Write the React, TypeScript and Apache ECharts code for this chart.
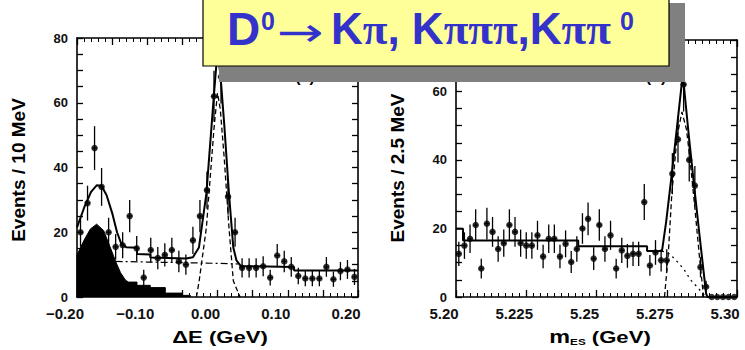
import React, { useEffect, useRef } from 'react';
import * as echarts from 'echarts';

// ---------- Left panel: ΔE (GeV), events / 10 MeV ----------
const leftBinCenters = [
  -0.195, -0.185, -0.175, -0.165, -0.155, -0.145, -0.135, -0.125, -0.115, -0.105,
  -0.095, -0.085, -0.075, -0.065, -0.055, -0.045, -0.035, -0.025, -0.015, -0.005,
  0.005, 0.015, 0.025, 0.035, 0.045, 0.055, 0.065, 0.075, 0.085, 0.095,
  0.105, 0.115, 0.125, 0.135, 0.145, 0.155, 0.165, 0.175, 0.185, 0.195,
];
const leftCounts = [
  20, 29, 46, 34, 20, 15.5, 16, 25, 15, 6,
  14.5, 12, 13, 14.5, 11, 10, 17.5, 25, 33, 62,
  68, 31, 20, 9, 9, 9, 9.5, 6, 12.8, 11,
  9.3, 6.5, 5.7, 5.7, 5.7, 9.3, 5.5, 8, 8.5, 6.2,
];
const leftTotalFit = [
  [-0.2, 21.5], [-0.19, 27.5], [-0.18, 32.5], [-0.172, 34.5], [-0.165, 34.3], [-0.158, 31.5],
  [-0.15, 26], [-0.143, 20], [-0.137, 16.5], [-0.13, 15.4], [-0.1146, 15.2], [-0.1146, 13.3],
  [-0.0957, 13.1], [-0.0957, 12.2], [-0.045, 11.9], [-0.035, 12.3], [-0.0264, 15.3],
  [-0.0158, 32], [-0.0084, 53], [-0.005, 62.7], [-0.0015, 72], [0.001, 74], [0.004, 69],
  [0.0097, 53], [0.0163, 32], [0.0225, 15.3], [0.027, 11.3], [0.033, 9.6], [0.109, 9.3],
  [0.109, 8.2], [0.2, 8.2],
];
const leftSignalFit = [
  [-0.03, 0], [-0.0264, 4.5], [-0.0158, 21.5], [-0.0084, 42.5], [-0.005, 52], [0.0, 63],
  [0.004, 58], [0.0097, 42.5], [0.0163, 21.5], [0.0225, 5], [0.032, 0],
];
const leftBackgroundFit = [[-0.145, 11], [-0.1, 10.8], [-0.05, 10.6], [0.0, 10.4], [0.03, 10.2]];
const leftPeakingBkg = [
  [-0.2, 0], [-0.2, 13], [-0.19, 17.5], [-0.181, 21], [-0.172, 22.5], [-0.162, 20.5],
  [-0.153, 15.5], [-0.145, 11], [-0.138, 7.5], [-0.131, 5.2], [-0.1265, 4.6], [-0.1146, 4.6],
  [-0.1146, 3.6], [-0.0957, 3.6], [-0.0957, 2.9], [-0.0743, 2.9], [-0.0743, 1.2],
  [-0.0505, 1.2], [-0.0505, 0.5], [-0.0387, 0.5], [-0.0387, 0],
];
const leftXTickLabels = ['\u22120.20', '\u22120.10', '0.00', '0.10', '0.20'];

// ---------- Right panel: m_ES (GeV), events / 2.5 MeV ----------
const rightBinCenters = [
  5.201, 5.203, 5.205, 5.207, 5.209, 5.211, 5.213, 5.215, 5.217, 5.219,
  5.221, 5.223, 5.225, 5.227, 5.229, 5.231, 5.233, 5.235, 5.237, 5.239,
  5.241, 5.243, 5.245, 5.247, 5.249, 5.251, 5.253, 5.255, 5.257, 5.259,
  5.261, 5.263, 5.265, 5.267, 5.269, 5.271, 5.273, 5.275, 5.277, 5.279,
  5.281, 5.283, 5.285, 5.287, 5.289, 5.291, 5.293, 5.295, 5.297, 5.299,
];
const rightCounts = [
  12.6, 15, 17, 21, 8.3, 21.4, 19, 14, 15.7, 21,
  19, 15.7, 15, 15, 18, 11.8, 17, 17, 11.8, 15.5,
  10.2, 14, 20, 22.8, 11.2, 21, 14, 18, 8.3, 13.6,
  12, 12.6, 12.6, 27.7, 9.2, 13, 10.7, 10.7, 36, 46,
  62, 40, 32.5, 8.7, 3, 0, 0, 0, 0, 0,
];
const rightTotalFit = [
  [5.2, 19.9], [5.2025, 19.9], [5.2025, 16.5], [5.2435, 16.5], [5.2435, 14.8], [5.268, 14.8],
  [5.268, 13.4], [5.2733, 13.4], [5.2748, 22], [5.2768, 36], [5.2787, 50], [5.2807, 65],
  [5.2828, 47.5], [5.2848, 32], [5.2868, 17], [5.289, 1], [5.2895, 0], [5.3, 0],
];
const rightSignalFit = [
  [5.2742, 0], [5.2755, 12], [5.2768, 30], [5.2787, 47], [5.2804, 54], [5.282, 49],
  [5.2833, 40], [5.285, 26], [5.2866, 12], [5.2881, 0],
];
const rightBackgroundFit = [
  [5.2733, 13.4], [5.276, 12.6], [5.2785, 10.5], [5.281, 8.2], [5.2835, 5], [5.2865, 2.3], [5.289, 0],
];
const rightXTickLabels = ['5.20', '5.225', '5.25', '5.275', '5.30'];

const SANS = '"Liberation Sans", Arial, Helvetica, sans-serif';
const BLUE = '#3333cc';

function xAxisDef(grid: number, pos: string, min: number, max: number, interval: number, minorSplit: number, formatter: any, show: boolean) {
  return {
    type: 'value', gridIndex: grid, position: pos, min, max, interval,
    axisLine: { show: true, onZero: false, lineStyle: { color: '#000', width: 1.6 } },
    axisTick: { show: true, inside: true, length: 7, lineStyle: { color: '#000', width: 1.3 } },
    minorTick: { show: true, splitNumber: minorSplit, length: 4, lineStyle: { color: '#000', width: 1 } },
    splitLine: { show: false },
    minorSplitLine: { show: false },
    axisLabel: {
      show, formatter, fontSize: 15, fontWeight: 'bold', color: '#111', fontFamily: SANS,
      margin: 9, padding: [0, 24, 0, 0],
    },
  };
}
function yAxisDef(grid: number, pos: string, max: number, show: boolean) {
  return {
    type: 'value', gridIndex: grid, position: pos, min: 0, max, interval: 5,
    axisLine: { show: true, onZero: false, lineStyle: { color: '#000', width: 1.6 } },
    axisTick: { show: true, inside: true, length: 6, lineStyle: { color: '#000', width: 1.3 } },
    splitLine: { show: false },
    axisLabel: {
      show, fontSize: 13, fontWeight: 'bold', color: '#111', fontFamily: SANS, margin: 9,
      padding: [0, 0, 6, 0],
      formatter: (v: number) => (Math.round(v) % 20 === 0 ? String(Math.round(v)) : ''),
    },
  };
}
function errorBars(xi: number, yi: number, xs: number[], ys: number[], halfBin: number) {
  return {
    type: 'custom', coordinateSystem: 'cartesian2d', xAxisIndex: xi, yAxisIndex: yi, z: 4,
    data: xs.map((x, i) => [x, ys[i], Math.sqrt(ys[i])]),
    encode: { x: 0, y: 1 },
    renderItem: (_p: any, api: any) => {
      const x = api.value(0), y = api.value(1), e = api.value(2);
      const top = api.coord([x, y + e]);
      const bot = api.coord([x, Math.max(0, y - e)]);
      const l = api.coord([x - halfBin, y]);
      const r = api.coord([x + halfBin, y]);
      return {
        type: 'group',
        children: [
          { type: 'line', shape: { x1: top[0], y1: top[1], x2: bot[0], y2: bot[1] }, style: { stroke: '#000', lineWidth: 1.3 } },
          { type: 'line', shape: { x1: l[0], y1: l[1], x2: r[0], y2: r[1] }, style: { stroke: '#000', lineWidth: 1.3 } },
        ],
      };
    },
  };
}
function fitLine(xi: number, yi: number, data: number[][], width: number, type: any, z = 3) {
  return {
    type: 'line', xAxisIndex: xi, yAxisIndex: yi, data, showSymbol: false, symbol: 'none', z,
    lineStyle: { color: '#000', width, type }, silent: true,
  };
}
function points(xi: number, yi: number, xs: number[], ys: number[]) {
  return {
    type: 'scatter', xAxisIndex: xi, yAxisIndex: yi, z: 5,
    data: xs.map((x, i) => [x, ys[i]]), symbol: 'circle', symbolSize: 6.5,
    itemStyle: { color: '#000' },
  };
}

const leftFmt = (v: number) => {
  const k = Math.round(v * 100);
  if (k % 10 !== 0) return '';
  return leftXTickLabels[(k + 20) / 10] ?? '';
};
const rightFmt = (v: number) => {
  const idx = Math.round((v - 5.2) / 0.025);
  return rightXTickLabels[idx] ?? '';
};

function txt(text: string, x: number, y: number, font: string, extra: any = {}, z = 120) {
  return {
    type: 'text', x, y, z, ...extra,
    style: {
      text, font, fill: extra.fill || '#000',
      align: extra.align || 'center', textAlign: extra.align || 'center',
      verticalAlign: 'middle', textVerticalAlign: 'middle',
      rich: extra.rich,
    },
  };
}

export default function App() {
  const ref = useRef<HTMLDivElement>(null);
  useEffect(() => {
    document.body.style.margin = '0';
    const chart = echarts.init(ref.current!, null, { renderer: 'svg' });
    const option: any = {
      animation: false,
      backgroundColor: '#ffffff',
      grid: [
        { left: 77, top: 38, width: 281, height: 259 },
        { left: 456, top: 40, width: 281, height: 257 },
      ],
      xAxis: [
        xAxisDef(0, 'bottom', -0.2, 0.2, 0.05, 5, leftFmt, true),
        xAxisDef(0, 'top', -0.2, 0.2, 0.05, 5, leftFmt, false),
        xAxisDef(1, 'bottom', 5.2, 5.3, 0.025, 10, rightFmt, true),
        xAxisDef(1, 'top', 5.2, 5.3, 0.025, 10, rightFmt, false),
      ],
      yAxis: [
        yAxisDef(0, 'left', 80, true),
        yAxisDef(0, 'right', 80, false),
        yAxisDef(1, 'left', 75, true),
        yAxisDef(1, 'right', 75, false),
      ],
      series: [
        {
          type: 'line', xAxisIndex: 0, yAxisIndex: 0, data: leftPeakingBkg, showSymbol: false, symbol: 'none',
          z: 2, lineStyle: { color: '#000', width: 1 }, areaStyle: { color: '#000', opacity: 1 }, silent: true,
        },
        fitLine(0, 0, leftBackgroundFit, 1.2, [7, 3, 2, 3]),
        fitLine(0, 0, leftSignalFit, 1.3, [5, 3]),
        fitLine(0, 0, leftTotalFit, 2),
        errorBars(0, 0, leftBinCenters, leftCounts, 0.0035),
        points(0, 0, leftBinCenters, leftCounts),
        fitLine(2, 2, rightBackgroundFit, 1.3, [2, 4]),
        fitLine(2, 2, rightSignalFit, 1.3, [5, 3]),
        fitLine(2, 2, rightTotalFit, 2),
        errorBars(2, 2, rightBinCenters, rightCounts, 0.0008),
        points(2, 2, rightBinCenters, rightCounts),
      ],
      graphic: [
        txt('(a)', 305, 76, `bold 16px ${SANS}`, {}, 50),
        txt('(b)', 656, 76, `bold 16px ${SANS}`, {}, 50),
        { type: 'rect', z: 100, shape: { x: 219, y: 3, width: 466, height: 79 }, style: { fill: '#808080' } },
        { type: 'rect', z: 101, shape: { x: 203, y: -13, width: 466, height: 79 }, style: { fill: '#ffff99', stroke: '#000', lineWidth: 1.2 } },
        txt('D', 227, 28.5, `bold 46px ${SANS}`, { fill: BLUE, align: 'left' }, 110),
        txt('0', 261, 21, `bold 25px ${SANS}`, { fill: BLUE, align: 'left' }, 110),
        txt('\u2192', 277, 32, `40px "DejaVu Sans", ${SANS}`, { fill: BLUE, align: 'left', scaleX: 1.4 }, 110),
        txt('{k|K}{p|\u03c0}{k|, K}{p|\u03c0\u03c0\u03c0}{k|,K}{p|\u03c0\u03c0}', 331, 28.5, `bold 44px ${SANS}`, {
          fill: BLUE, align: 'left',
          rich: {
            k: { fontSize: 44, fontWeight: 'bold', fontFamily: SANS, fill: BLUE, color: BLUE },
            p: { fontSize: 45, fontWeight: 'bold', fontFamily: '"Liberation Serif", "DejaVu Serif", serif', fill: BLUE, color: BLUE },
          },
        }, 110),
        txt('0', 620, 21, `bold 25px ${SANS}`, { fill: BLUE, align: 'left' }, 110),
        txt('Events / 10 MeV', 18, 170, `bold 19px ${SANS}`, { rotation: Math.PI / 2 }, 60),
        txt('Events / 2.5 MeV', 397, 168, `bold 19px ${SANS}`, { rotation: Math.PI / 2 }, 60),
        txt('\u0394E (GeV)', 220, 337, `bold 17px ${SANS}`, { scaleX: 1.3 }, 60),
        txt('{m|m}{s|ES}{n| (GeV)}', 600, 337, `bold 17px ${SANS}`, {
          scaleX: 1.3,
          rich: {
            m: { fontSize: 18, fontWeight: 'bold', fontFamily: SANS },
            s: { fontSize: 9, fontWeight: 'bold', fontFamily: SANS, verticalAlign: 'bottom', lineHeight: 16 },
            n: { fontSize: 17, fontWeight: 'bold', fontFamily: SANS },
          },
        }, 60),
      ],
    };
    chart.setOption(option);
    return () => chart.dispose();
  }, []);
  return <div ref={ref} style={{ position: 'absolute', left: 0, top: 0, width: 745, height: 350 }} />;
}
